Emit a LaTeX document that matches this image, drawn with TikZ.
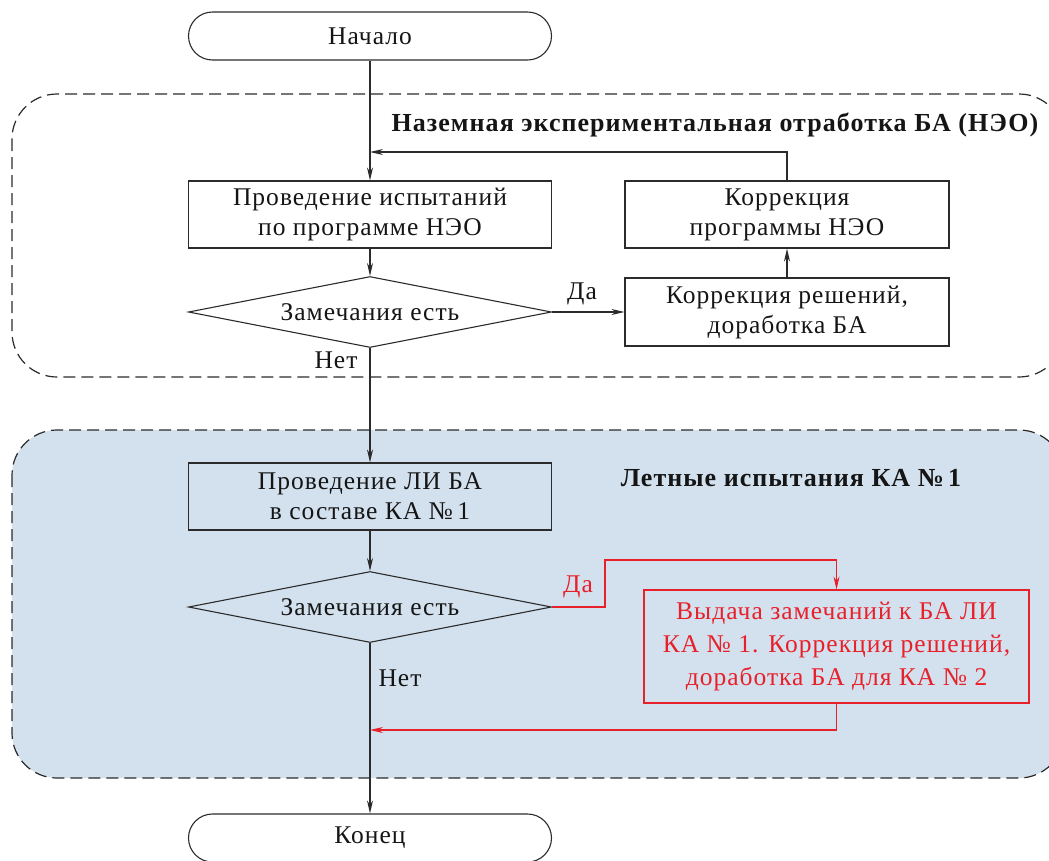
\documentclass[tikz,border=0pt]{standalone}
\usepackage{fontspec}
\setmainfont[LetterSpace=4]{Liberation Serif}
\usetikzlibrary{shapes.geometric,arrows.meta}
\definecolor{ln}{HTML}{2B2B2B}
\definecolor{tx}{HTML}{151515}
\definecolor{rd}{HTML}{E8202A}
\definecolor{bluefill}{HTML}{D3E1EE}
\tikzset{
  base/.style={draw=ln, line width=1.1pt, align=center, inner sep=0pt, font=\fontsize{25.5}{30}\selectfont, text=tx},
  term/.style={base, rounded corners=24pt, minimum width=363pt, minimum height=48pt},
  proc/.style={base, minimum height=67pt},
  dec/.style={base, diamond, aspect=5, minimum width=363pt, minimum height=71pt},
  arr/.style={draw=ln, line width=1.1pt, -{Stealth[length=13pt,width=6pt]}},
  rarr/.style={draw=rd, line width=1.1pt, -{Stealth[length=13pt,width=6pt]}},
  region/.style={line width=1.2pt, dash pattern=on 12pt off 6pt, rounded corners=45pt, draw=ln},
  lab/.style={font=\fontsize{25.5}{30}\selectfont, text=tx, inner sep=0pt},
  ttl/.style={font=\fontsize{26}{30}\selectfont\bfseries, text=tx, inner sep=0pt},
}
\begin{document}
\begin{tikzpicture}[x=1pt,y=-1pt]
\useasboundingbox (0,0) rectangle (1049,860);
\begin{scope}
\clip (0,0) rectangle (1049,860);
\draw[region] (12,94) rectangle (1064,377);
\draw[region, fill=bluefill] (12,430) rectangle (1064,778);
\end{scope}
\node[ttl] (t1) at (715,125) {Наземная экспериментальная отработка БА (НЭО)};
\node[ttl] (t2) at (791,478) {Летные испытания КА №\,1};

\node[term] (start) at (370,36) {Начало};
\node[proc, minimum width=363pt] (p1) at (370,214.5) {Проведение испытаний\\по программе НЭО};
\node[proc, minimum width=324pt] (kp) at (787,214.5) {Коррекция\\программы НЭО};
\node[dec] (d1) at (370,312) {Замечания есть};
\node[proc, minimum width=324pt, minimum height=68pt] (kr) at (787,312) {Коррекция решений,\\доработка БА};
\node[proc, minimum width=363pt, fill=bluefill] (p2) at (370,496.5) {Проведение ЛИ БА\\в составе КА №\,1};
\node[dec, fill=bluefill] (d2) at (370,607) {Замечания есть};
\node[proc, draw=rd, text=rd, minimum width=385pt, minimum height=113pt, font=\fontsize{25.5}{33}\selectfont] (vz) at (836.5,646.5) {Выдача замечаний к БА ЛИ\\КА № 1. Коррекция решений,\\доработка БА для КА № 2};
\node[term] (end) at (370,838) {Конец};

\coordinate (j1) at (370,152);
\coordinate (j2) at (370,730);

\draw[arr] (start) -- (p1);
\draw[arr] (kp.north) |- (j1);
\draw[arr] (p1) -- (d1);
\draw[arr] (d1) -- (kr);
\draw[arr] (kr) -- (kp);
\draw[arr] (d1) -- (p2);
\draw[arr] (p2) -- (d2);
\draw[arr] (d2) -- (end);
\draw[rarr] (d2.east) -- (605,607) -- (605,560) -| (vz.north);
\draw[rarr] (vz.south) |- (j2);

\node[lab] (da1) at (582,294) {Да};
\node[lab] (net1) at (336,360) {Нет};
\node[lab, text=rd] (da2) at (578,587) {Да};
\node[lab] (net2) at (400,678) {Нет};
\end{tikzpicture}
\end{document}
